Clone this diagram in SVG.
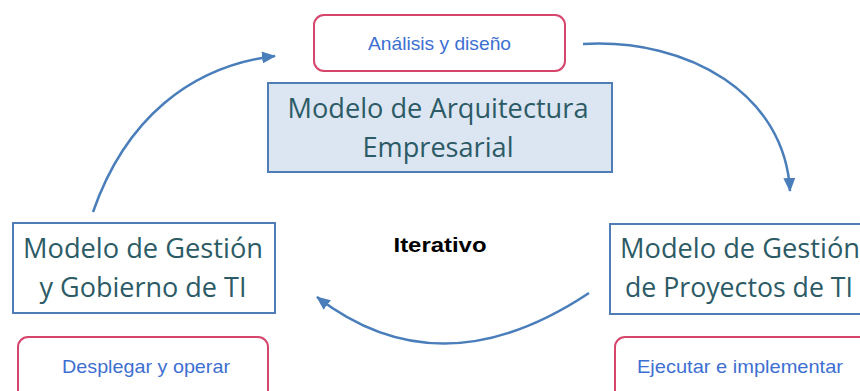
<svg xmlns="http://www.w3.org/2000/svg" width="860" height="391" viewBox="0 0 860 391">
<defs>
<style>
.model{fill:#ffffff;stroke:#4f7db5;stroke-width:2}
.main{fill:#dce5f2;stroke:#4f7db5;stroke-width:2}
.phase{fill:#ffffff;stroke:#d6456c;stroke-width:2}
.mt{font-family:"Open Sans","DejaVu Sans",sans-serif;font-size:27px;fill:#2c5b66;text-anchor:middle}
.pt{font-family:"Liberation Sans",Arial,sans-serif;font-size:19px;fill:#3d6fd2;text-anchor:middle}
.it{font-family:"Liberation Sans",Arial,sans-serif;font-size:20px;font-weight:bold;fill:#000000;text-anchor:middle}
.arc{fill:none;stroke:#4a7ebb;stroke-width:2.5}
</style>
<marker id="ah" viewBox="0 0 14 12" refX="13" refY="6" markerWidth="14" markerHeight="12" markerUnits="userSpaceOnUse" orient="auto">
<path d="M0,0 L14,6 L0,12 Z" fill="#4a7ebb"/>
</marker>
</defs>
<rect width="860" height="391" fill="#ffffff"/>
<g id="connectors">
<path class="arc" d="M583,44 C690,38 785,95 790,191" marker-end="url(#ah)"/>
<path class="arc" d="M93,212 C125,120 190,66 275,56" marker-end="url(#ah)"/>
<path class="arc" d="M589,293 Q440,392 317,297" marker-end="url(#ah)"/>
</g>
<g id="analisis">
<rect class="phase" x="314" y="15" width="251" height="56" rx="10"/>
<text class="pt" x="439.5" y="50" textLength="143" lengthAdjust="spacingAndGlyphs">Análisis y diseño</text>
</g>
<g id="arquitectura">
<rect class="main" x="268" y="83" width="344" height="89"/>
<text class="mt" x="438" y="118" textLength="301" lengthAdjust="spacingAndGlyphs">Modelo de Arquitectura</text>
<text class="mt" x="438" y="157" textLength="151" lengthAdjust="spacingAndGlyphs">Empresarial</text>
</g>
<g id="gobierno">
<rect class="model" x="13" y="223" width="262" height="90"/>
<text class="mt" x="143" y="258" textLength="240" lengthAdjust="spacingAndGlyphs">Modelo de Gestión</text>
<text class="mt" x="143" y="297" textLength="207" lengthAdjust="spacingAndGlyphs">y Gobierno de TI</text>
</g>
<g id="proyectos">
<rect class="model" x="610" y="224" width="270" height="90"/>
<text class="mt" x="740" y="258" textLength="240" lengthAdjust="spacingAndGlyphs">Modelo de Gestión</text>
<text class="mt" x="739" y="297" textLength="228" lengthAdjust="spacingAndGlyphs">de Proyectos de TI</text>
</g>
<g id="iterativo">
<text class="it" x="440" y="252" textLength="93" lengthAdjust="spacingAndGlyphs">Iterativo</text>
</g>
<g id="desplegar">
<rect class="phase" x="18" y="337" width="250" height="70" rx="10"/>
<text class="pt" x="146" y="373" textLength="168" lengthAdjust="spacingAndGlyphs">Desplegar y operar</text>
</g>
<g id="ejecutar">
<rect class="phase" x="615" y="337" width="265" height="70" rx="10"/>
<text class="pt" x="740" y="373" textLength="206" lengthAdjust="spacingAndGlyphs">Ejecutar e implementar</text>
</g>
</svg>
